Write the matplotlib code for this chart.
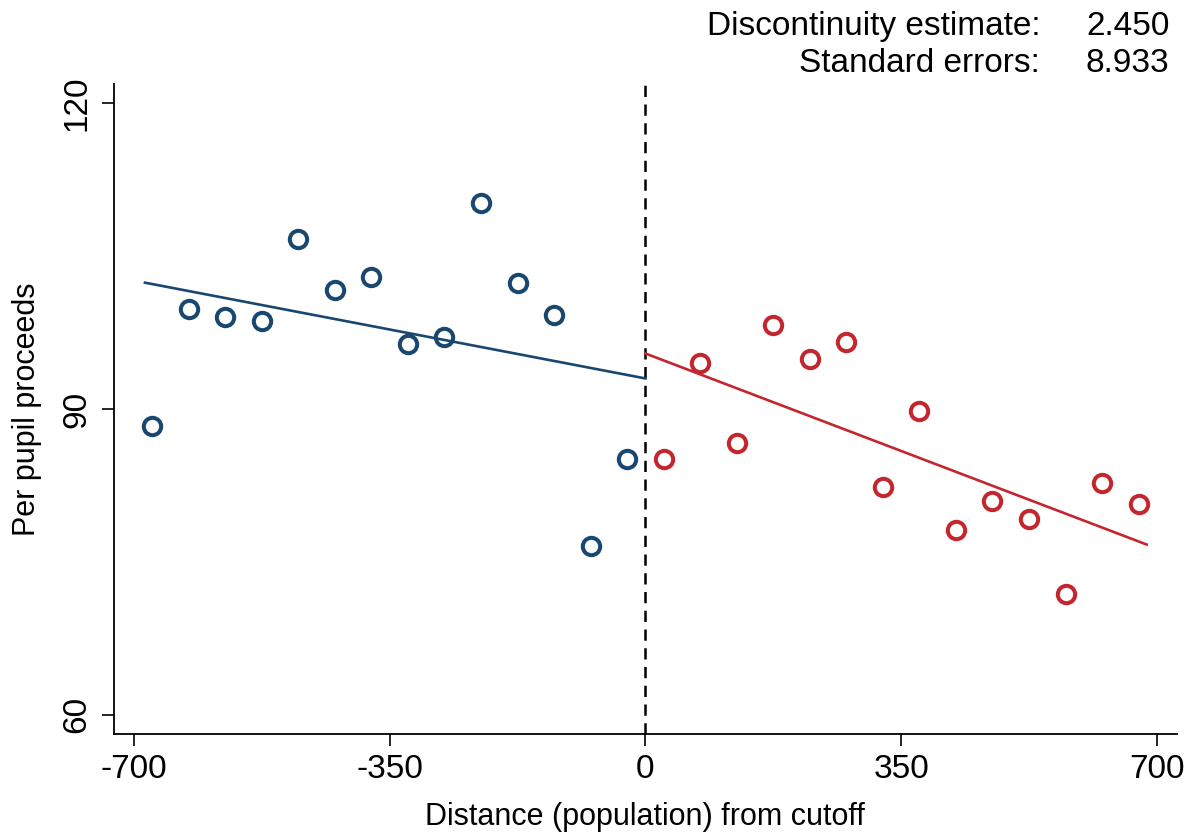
import matplotlib
matplotlib.use('Agg')
import matplotlib.pyplot as plt
import numpy as np

plt.rcParams['font.family'] = ['Liberation Sans', 'DejaVu Sans']
plt.rcParams['axes.unicode_minus'] = False

# binned means, left of cutoff
left_x = [-675, -625, -575, -525, -475, -425, -375, -325, -275, -225, -175, -125, -75, -25]
left_y = [88.3, 99.8, 99.0, 98.6, 106.7, 101.7, 102.95, 96.4, 97.1, 110.2, 102.4, 99.2, 76.6, 85.05]
# binned means, right of cutoff
right_x = [25, 75, 125, 175, 225, 275, 325, 375, 425, 475, 525, 575, 625, 675]
right_y = [85.05, 94.5, 86.7, 98.2, 94.9, 96.6, 82.3, 89.8, 78.1, 81.0, 79.2, 71.8, 82.75, 80.7]

# linear fits (endpoints)
left_fit_x = [-685, 0]
left_fit_y = [102.4, 93.0]
right_fit_x = [0, 686]
right_fit_y = [95.45, 76.7]

est = 2.450
se = 8.933

blue = '#1a476f'
red = '#c4262e'

fig = plt.figure(figsize=(11.97, 8.39), dpi=100)
ax = fig.add_axes([0.0952, 0.1251, 0.888, 0.7748])

ax.plot(left_fit_x, left_fit_y, color=blue, lw=1.9, zorder=2)
ax.plot(right_fit_x, right_fit_y, color=red, lw=1.9, zorder=2)
ax.plot(left_x, left_y, 'o', ms=12.5, mfc='none', mec=blue, mew=2.9, zorder=3)
ax.plot(right_x, right_y, 'o', ms=12.5, mfc='none', mec=red, mew=2.9, zorder=3)
ax.axvline(0, color='black', lw=1.8, ls=(0, (4.5, 3)), zorder=1)

ax.set_xlim(-727.4, 727.4)
ax.set_ylim(58.1, 121.9)
ax.set_xticks([-700, -350, 0, 350, 700])
ax.set_yticks([60, 90, 120])
ax.set_yticklabels(['60', '90', '120'], rotation=90, va='center')
ax.tick_params(axis='both', labelsize=24, length=8.5, width=1.2, direction='out')
ax.tick_params(axis='y', pad=7)
ax.tick_params(axis='x', pad=6)
for s in ['top', 'right']:
    ax.spines[s].set_visible(False)
for s in ['left', 'bottom']:
    ax.spines[s].set_linewidth(1.3)

ax.set_xlabel('Distance (population) from cutoff', fontsize=22, labelpad=12)
ax.set_ylabel('Per pupil proceeds', fontsize=22, labelpad=14)

fig.text(0.869, 0.958, 'Discontinuity estimate:', ha='right', va='baseline', fontsize=24)
fig.text(0.869, 0.914, 'Standard errors:', ha='right', va='baseline', fontsize=24)
fig.text(0.977, 0.958, '%.3f' % est, ha='right', va='baseline', fontsize=24)
fig.text(0.977, 0.914, '%.3f' % se, ha='right', va='baseline', fontsize=24)

fig.savefig('out.png', dpi=100)
